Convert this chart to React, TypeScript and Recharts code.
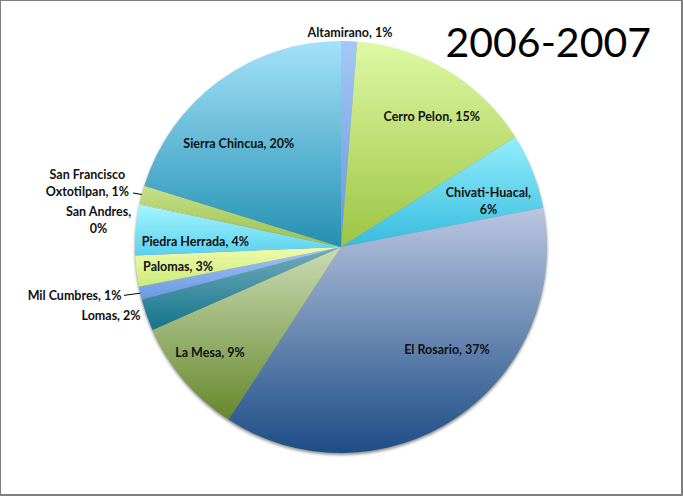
import React from "react";
import { PieChart, Pie, Cell } from "recharts";

// ---- data ----
const names = [
  "Altamirano",
  "Cerro Pelon",
  "Chivati-Huacal",
  "El Rosario",
  "La Mesa",
  "Lomas",
  "Mil Cumbres",
  "Palomas",
  "Piedra Herrada",
  "San Andres",
  "San Francisco Oxtotilpan",
  "Sierra Chincua",
];
const values = [1.25, 14.8, 5.9, 37.25, 9.2, 2.5, 1.0, 2.45, 3.95, 0.1, 1.4, 20.2];
const pctLabels = [1, 15, 6, 37, 9, 2, 1, 3, 4, 0, 1, 20];
const title = "2006-2007";

// ---- styles ----
const gradTop = [
  "#a4c8f6", "#def9a4", "#94eefd", "#bac6e0", "#cadbb4", "#74acbc",
  "#a0c6fa", "#eefcac", "#a4f6ff", "#c8e490", "#c4e088", "#a4e2f9",
];
const gradBottom = [
  "#6894dc", "#9cc444", "#36bbde", "#1d4d86", "#66882c", "#12748c",
  "#6a98e0", "#cce878", "#5cd0ee", "#a0c450", "#9cc04c", "#2390b2",
];

type Layout = { f: number; dt: number; anchor: "start" | "middle" | "end"; split?: number | "pct"; leader?: { f: number; dt: number } };
const labelLayout: Layout[] = [
  { f: 1.043, dt: 0.15, anchor: "middle" },
  { f: 0.773, dt: 3.6, anchor: "middle" },
  { f: 0.751, dt: 4, anchor: "middle", split: "pct" },
  { f: 0.715, dt: -12.1, anchor: "middle" },
  { f: 0.814, dt: 1.7, anchor: "middle" },
  { f: 1.028, dt: 0.4, anchor: "end" },
  { f: 1.09, dt: 0.7, anchor: "end", leader: { f: 1.08, dt: 0.4 } },
  { f: 0.796, dt: 0.25, anchor: "middle" },
  { f: 0.708, dt: -2.3, anchor: "middle" },
  { f: 1.184, dt: -5.7, anchor: "middle", split: "pct" },
  { f: 1.271, dt: -0.4, anchor: "middle", split: 13, leader: { f: 1.043, dt: -0.2 } },
  { f: 0.707, dt: -8.2, anchor: "middle" },
];

const tableData = names.map((n, i) => ({ name: n, value: values[i], pct: pctLabels[i] }));

const RAD = Math.PI / 180;
const LINE_H = 17;

const renderLabel = (props: any) => {
  const { cx, cy, midAngle, outerRadius, index } = props;
  const L = labelLayout[index];
  const a = (midAngle - L.dt) * RAD;
  const x = cx + outerRadius * L.f * Math.cos(a);
  const y = cy - outerRadius * L.f * Math.sin(a);
  const full = `${names[index]}, ${pctLabels[index]}%`;
  let lines: string[] = [full];
  if (L.split === "pct") lines = [`${names[index]},`, `${pctLabels[index]}%`];
  else if (typeof L.split === "number") lines = [full.slice(0, L.split), full.slice(L.split + 1)];
  const y0 = y - ((lines.length - 1) * LINE_H) / 2;
  let leader: React.ReactNode = null;
  if (L.leader) {
    const la = (midAngle - L.leader.dt) * RAD;
    const lx = cx + outerRadius * L.leader.f * Math.cos(la);
    const ly = cy - outerRadius * L.leader.f * Math.sin(la);
    const ea = midAngle * RAD;
    const ex = cx + outerRadius * Math.cos(ea);
    const ey = cy - outerRadius * Math.sin(ea);
    leader = <line x1={lx} y1={ly} x2={ex} y2={ey} stroke="#000" strokeWidth={1} />;
  }
  return (
    <g key={`lbl-${index}`}>
      {leader}
      <text
        x={x}
        y={y0}
        textAnchor={L.anchor}
        dominantBaseline="central"
        fontFamily="Lato, 'Open Sans', sans-serif"
        fontWeight={700}
        fontSize={12.5}
        fill="#111"
      >
        {lines.map((t, k) => (
          <tspan key={k} x={x} dy={k === 0 ? 0 : LINE_H}>
            {t}
          </tspan>
        ))}
      </text>
    </g>
  );
};

export default function App() {
  return (
    <div style={{ position: "absolute", left: 0, top: 0, width: 683, height: 496, background: "#fff" }}>
      <PieChart width={683} height={496} margin={{ top: 0, right: 0, bottom: 0, left: 0 }}>
        <defs>
          {gradTop.map((c, i) => (
            <linearGradient key={i} id={`g${i}`} x1="0" y1="0" x2="0" y2="1">
              <stop offset="0%" stopColor={c} />
              <stop offset="100%" stopColor={gradBottom[i]} />
            </linearGradient>
          ))}
          <filter id="shadowBlur" x="-10%" y="-10%" width="120%" height="120%">
            <feGaussianBlur stdDeviation="1.8" />
          </filter>
        </defs>
        <Pie
          data={[{ name: "shadow", value: 1 }]}
          dataKey="value"
          cx={341}
          cy={249}
          outerRadius={206}
          startAngle={90}
          endAngle={-270}
          stroke="none"
          isAnimationActive={false}
          label={false}
          labelLine={false}
        >
          <Cell fill="#8c8c8c" filter="url(#shadowBlur)" />
        </Pie>
        <Pie
          data={tableData}
          dataKey="value"
          nameKey="name"
          cx={341}
          cy={247}
          outerRadius={206}
          startAngle={90}
          endAngle={-270}
          stroke="none"
          isAnimationActive={false}
          label={renderLabel}
          labelLine={false}
        >
          {tableData.map((_, i) => (
            <Cell key={i} fill={`url(#g${i})`} stroke="none" />
          ))}
        </Pie>
      </PieChart>
      <svg width={683} height={496} style={{ position: "absolute", left: 0, top: 0, pointerEvents: "none" }}>
        <text x={651} y={57} textAnchor="end" fontFamily="Lato, sans-serif" fontSize={41} fill="#000">
          {title}
        </text>
      </svg>
      <div
        style={{
          position: "absolute",
          left: 0,
          top: 0,
          width: 683,
          height: 496,
          boxSizing: "border-box",
          borderTop: "1px solid #7f7f7f",
          borderLeft: "1px solid #7f7f7f",
          borderRight: "2px solid #7f7f7f",
          borderBottom: "2px solid #7f7f7f",
          pointerEvents: "none",
        }}
      />
    </div>
  );
}
